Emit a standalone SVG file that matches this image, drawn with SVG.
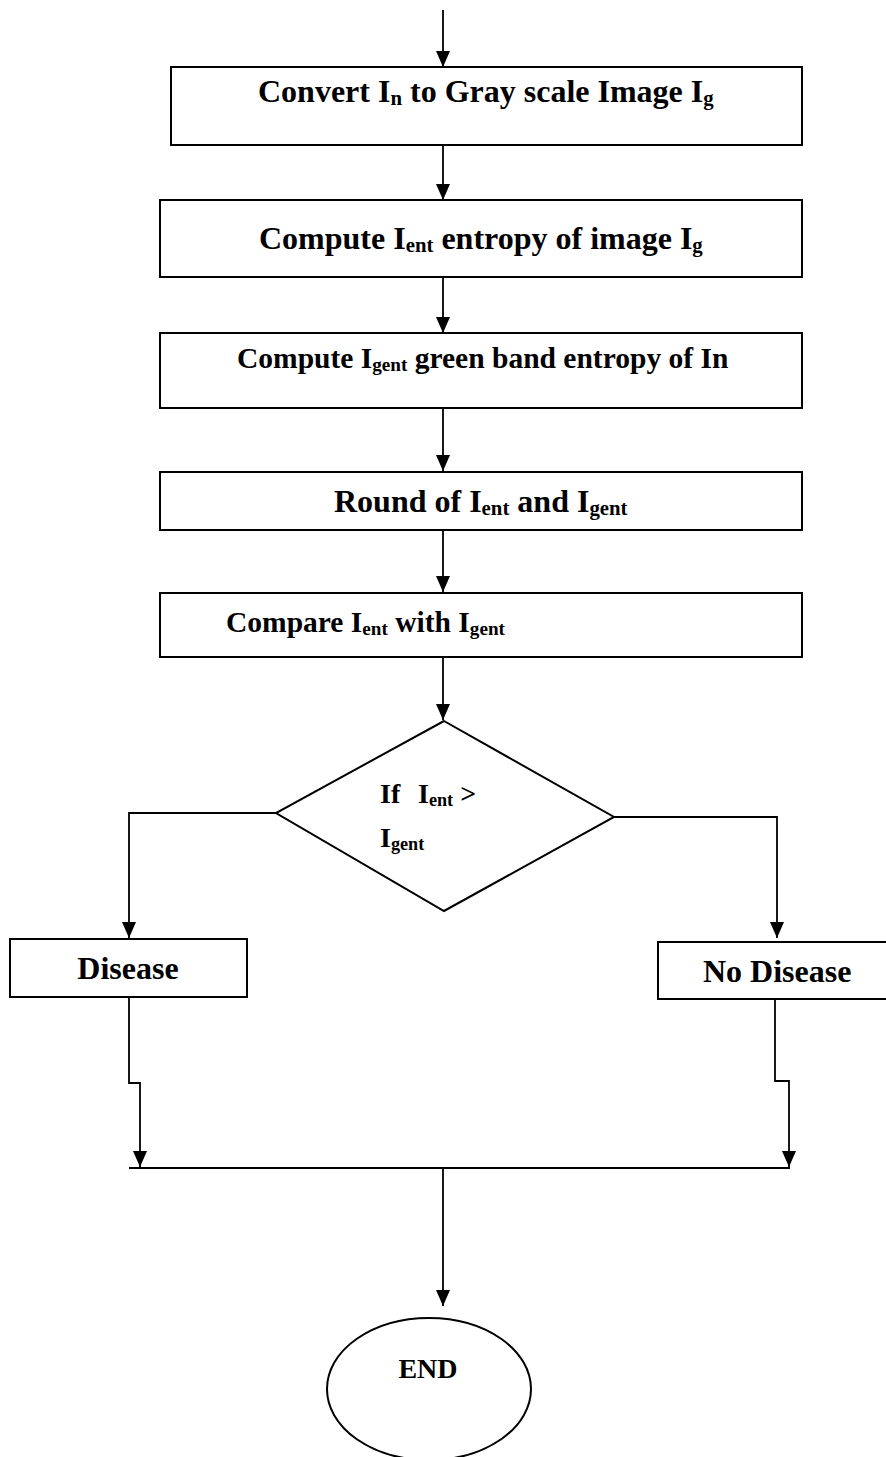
<svg xmlns="http://www.w3.org/2000/svg" width="886" height="1457" viewBox="0 0 886 1457">
<style>
.box{fill:#fff;stroke:#000;stroke-width:2}
.ln{fill:none;stroke:#000;stroke-width:1.8}
.t{font-family:"Liberation Serif","Times New Roman",serif;font-weight:bold;fill:#000}
.s{font-size:65%}
</style>
<defs>
<marker id="ah" markerUnits="userSpaceOnUse" markerWidth="17" markerHeight="15" refX="16" refY="7" orient="auto">
<path d="M0,0 L16,7 L0,14 z" fill="#000"/>
</marker>
</defs>
<g id="connectors">
<line class="ln" x1="443" y1="10" x2="443" y2="67" marker-end="url(#ah)"/>
<line class="ln" x1="443" y1="145" x2="443" y2="200" marker-end="url(#ah)"/>
<line class="ln" x1="443" y1="277" x2="443" y2="333" marker-end="url(#ah)"/>
<line class="ln" x1="443" y1="408" x2="443" y2="471" marker-end="url(#ah)"/>
<line class="ln" x1="443" y1="530" x2="443" y2="592" marker-end="url(#ah)"/>
<line class="ln" x1="443" y1="657" x2="443" y2="720" marker-end="url(#ah)"/>
<polyline class="ln" points="276,813 129,813 129,938" marker-end="url(#ah)"/>
<polyline class="ln" points="614,817 777,817 777,938" marker-end="url(#ah)"/>
<polyline class="ln" points="129,998 129,1083 140,1083 140,1167" marker-end="url(#ah)"/>
<polyline class="ln" points="775,996 775,1081 789,1081 789,1167" marker-end="url(#ah)"/>
<line x1="129" y1="1168" x2="790" y2="1168" stroke="#000" stroke-width="2.2"/>
<line class="ln" x1="443" y1="1168" x2="443" y2="1306" marker-end="url(#ah)"/>
</g>
<g id="n1">
<rect class="box" x="171" y="67" width="631" height="78"/>
<text class="t" x="258" y="102" font-size="32">Convert I<tspan class="s" dy="3">n</tspan><tspan dy="-3"> to Gray scale Image I</tspan><tspan class="s" dy="3">g</tspan></text>
</g>
<g id="n2">
<rect class="box" x="160" y="200" width="642" height="77"/>
<text class="t" x="259" y="249" font-size="32">Compute I<tspan class="s" dy="3">ent</tspan><tspan dy="-3"> entropy of image I</tspan><tspan class="s" dy="3">g</tspan></text>
</g>
<g id="n3">
<rect class="box" x="160" y="333" width="642" height="75"/>
<text class="t" x="237" y="368" font-size="29.5">Compute I<tspan class="s" dy="3">gent</tspan><tspan dy="-3"> green band entropy of In</tspan></text>
</g>
<g id="n4">
<rect class="box" x="160" y="472" width="642" height="58"/>
<text class="t" x="334" y="512" font-size="32">Round of I<tspan class="s" dy="3">ent</tspan><tspan dy="-3"> and I</tspan><tspan class="s" dy="3">gent</tspan></text>
</g>
<g id="n5">
<rect class="box" x="160" y="593" width="642" height="64"/>
<text class="t" x="226" y="632" font-size="29.5">Compare I<tspan class="s" dy="3">ent</tspan><tspan dy="-3"> with I</tspan><tspan class="s" dy="3">gent</tspan></text>
</g>
<g id="decision">
<polygon class="box" points="444,721 614,817 444,911 276,813"/>
<text class="t" x="380" y="803" font-size="28">If<tspan x="418">I</tspan><tspan class="s" dy="3">ent</tspan><tspan dy="-3"> &gt;</tspan></text>
<text class="t" x="380" y="847" font-size="28">I<tspan class="s" dy="3">gent</tspan></text>
</g>
<g id="disease">
<rect class="box" x="10" y="939" width="237" height="58"/>
<text class="t" x="128" y="979" font-size="32" text-anchor="middle">Disease</text>
</g>
<g id="nodisease">
<rect class="box" x="658" y="942" width="240" height="57"/>
<text class="t" x="703" y="982" font-size="32">No Disease</text>
</g>
<g id="end">
<ellipse class="box" cx="429" cy="1389" rx="102" ry="71"/>
<text class="t" x="428" y="1378" font-size="28" text-anchor="middle">END</text>
</g>
</svg>
